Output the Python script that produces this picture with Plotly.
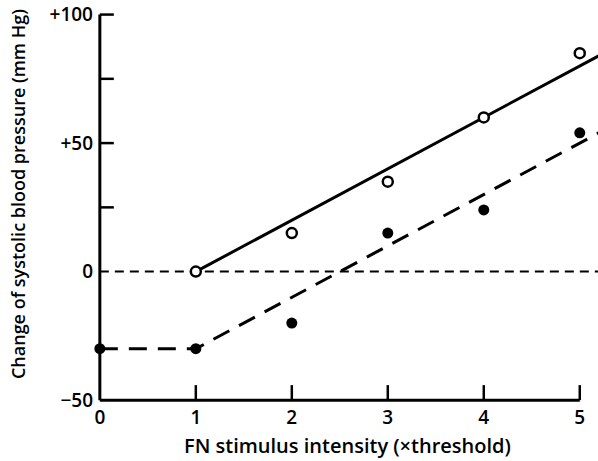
import plotly.graph_objects as go

# FN stimulus intensity (x threshold)
x_open = [1, 2, 3, 4, 5]
y_open = [0, 15, 35, 60, 85]

x_filled = [0, 1, 2, 3, 4, 5]
y_filled = [-30, -30, -20, 15, 24, 54]

# fitted lines as drawn in the figure
fit_open_x = [1, 5.2]
fit_open_y = [0, 84]
fit_filled_x = [0, 1, 5.2]
fit_filled_y = [-30, -30, 54]

x_ticks = [0, 1, 2, 3, 4, 5]
y_tickvals = [-50, 0, 50, 100]
y_ticktext = ['\u221250', '0', '+50', '+100']
y_minor = [25, 50, 75, 100]

FONT = 'Open Sans'
INK = 'black'
TXT = dict(family=FONT, size=18, color=INK, weight=600)
TICK = dict(family=FONT, size=19, color=INK, weight=600)

fig = go.Figure()

# reference line at zero
fig.add_trace(go.Scatter(
    x=[0, 5.3], y=[0, 0], mode='lines',
    line=dict(color=INK, width=2, dash='9px,6px'),
    hoverinfo='skip'))

fig.add_trace(go.Scatter(
    x=fit_filled_x, y=fit_filled_y, mode='lines',
    line=dict(color=INK, width=3, dash='18px,11px'),
    hoverinfo='skip'))

fig.add_trace(go.Scatter(
    x=fit_open_x, y=fit_open_y, mode='lines',
    line=dict(color=INK, width=3),
    hoverinfo='skip'))

fig.add_trace(go.Scatter(
    x=x_filled, y=y_filled, mode='markers', cliponaxis=False,
    marker=dict(symbol='circle', size=11, color=INK, line=dict(width=0))))

fig.add_trace(go.Scatter(
    x=x_open, y=y_open, mode='markers', cliponaxis=False,
    marker=dict(symbol='circle', size=10, color='white',
                line=dict(color=INK, width=2.5))))

# axis lines and inward ticks, drawn at the data origin like the original
shapes = [
    dict(type='line', xref='x', yref='y', x0=0, x1=0, y0=-50, y1=100,
         line=dict(color=INK, width=3)),
    dict(type='line', xref='x', yref='y', x0=0, x1=5, y0=-50, y1=-50,
         line=dict(color=INK, width=3)),
]
for v in y_minor:
    shapes.append(dict(type='line', xref='x', yref='y', xsizemode='pixel',
                       xanchor=0, x0=0, x1=14, y0=v, y1=v,
                       line=dict(color=INK, width=2.5)))
for v in x_ticks[1:]:
    shapes.append(dict(type='line', xref='x', yref='y', ysizemode='pixel',
                       yanchor=-50, y0=0, y1=15, x0=v, x1=v,
                       line=dict(color=INK, width=2.5)))

annotations = [
    dict(text='Change of systolic blood pressure (mm Hg)', textangle=-90,
         xref='paper', yref='paper', x=-0.155, y=0.536, xanchor='center',
         yanchor='middle', showarrow=False, font=TXT),
    dict(text='FN stimulus intensity (\u00d7threshold)',
         xref='paper', yref='paper', x=0.5, y=-0.107, xanchor='center',
         yanchor='middle', showarrow=False, font=dict(TXT, size=20)),
]

fig.update_layout(
    width=598, height=461,
    margin=dict(l=96, r=0, t=12, b=57, autoexpand=False),
    paper_bgcolor='white', plot_bgcolor='white',
    showlegend=False,
    shapes=shapes,
    annotations=annotations,
    font=TXT,
    xaxis=dict(
        range=[-0.04, 5.19], showgrid=False, zeroline=False, showline=False,
        tickvals=x_ticks, ticks='', ticklabelstandoff=0, tickfont=TICK,
        ticklabeloverflow='allow', automargin=False,
    ),
    yaxis=dict(
        range=[-51.5, 101], showgrid=False, zeroline=False, showline=False,
        tickvals=y_tickvals, ticktext=y_ticktext, ticks='',
        ticklabelstandoff=2, tickfont=TICK, ticklabeloverflow='allow',
        automargin=False,
    ),
)

# drop the default body margin so the figure sits in the page corner
fig.write_html('out.html', config={'displayModeBar': False},
               post_script="document.body.style.margin='0';")
